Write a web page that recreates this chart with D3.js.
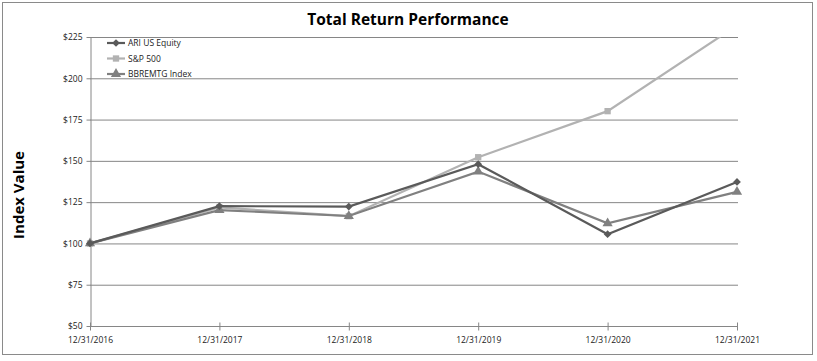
<!DOCTYPE html>
<html><head><meta charset="utf-8">
<script src="https://cdn.jsdelivr.net/npm/d3@7"></script>
<style>body{margin:0;background:#fff}svg{display:block}</style>
</head><body><svg id="c" width="817" height="361"></svg>
<script>
const categories = ["12/31/2016","12/31/2017","12/31/2018","12/31/2019","12/31/2020","12/31/2021"];
const ariValues = [100, 122.6, 122.3, 148, 105.6, 137.2];
const spValues = [100, 121.8, 116.5, 152.2, 180.1, 232];
const bbValues = [100, 120.2, 116.6, 143.5, 112.2, 131.2];
const seriesNames = ["ARI US Equity", "S&P 500", "BBREMTG Index"];
const yTicks = [50, 75, 100, 125, 150, 175, 200, 225];

const series = [
  {name: seriesNames[0], values: ariValues, color: "#5a5a5a", sym: d3.symbolSquare, rot: 45, size: 30},
  {name: seriesNames[1], values: spValues, color: "#b2b2b2", sym: d3.symbolSquare, rot: 0, size: 40},
  {name: seriesNames[2], values: bbValues, color: "#808080", sym: d3.symbolTriangle, rot: 0, size: 45}
];

const svg = d3.select("#c");
const font = "'Open Sans', 'Noto Sans', sans-serif";
svg.append("rect").attr("x",2.5).attr("y",2.5).attr("width",810).attr("height",352)
  .attr("fill","#fff").attr("stroke","#8a8a8a").attr("stroke-width",1);

const L = 90, R = 737, T = 37, B = 326;
const x = d3.scalePoint().domain(categories).range([L, R]);
const y = d3.scaleLinear().domain([50, 225]).range([B, T]);

svg.append("text").attr("x",408).attr("y",25).attr("text-anchor","middle")
  .attr("font-family",font).attr("font-weight","bold").attr("font-size",15.5).attr("fill","#000")
  .text("Total Return Performance");

svg.append("text").attr("transform","translate(24,195) rotate(-90)").attr("text-anchor","middle")
  .attr("font-family",font).attr("font-weight","bold").attr("font-size",15).attr("fill","#000")
  .text("Index Value");

// gridlines
svg.append("g").selectAll("line").data(yTicks.filter(d=>d>50)).join("line")
  .attr("x1",L).attr("x2",R+1).attr("y1",d=>y(d)+0.5).attr("y2",d=>y(d)+0.5)
  .attr("stroke","#868686").attr("stroke-width",1);

// y axis
const yAxis = svg.append("g").attr("transform",`translate(${L+0.5},0)`)
  .call(d3.axisLeft(y).tickValues(yTicks).tickSize(4).tickSizeOuter(0).tickFormat(d=>"$"+d));
yAxis.select(".domain").attr("stroke","#868686");
yAxis.selectAll(".tick line").attr("stroke","#868686");
yAxis.selectAll("text").attr("font-family",font).attr("font-size",8.5).attr("fill","#222").attr("x",-8);

// x axis
const xAxis = svg.append("g").attr("transform",`translate(0,${B+0.5})`)
  .call(d3.axisBottom(x).tickSize(4).tickSizeOuter(0));
xAxis.select(".domain").attr("stroke","#868686").attr("d",`M${L},0H${R+1}`);
xAxis.selectAll(".tick line").attr("stroke","#868686").attr("y1",-4).attr("y2",4);
xAxis.selectAll("text").attr("font-family",font).attr("font-size",8.5).attr("fill","#222").attr("dy","1.2em").attr("y",6);

svg.append("clipPath").attr("id","clip").append("rect")
  .attr("x",L-10).attr("y",T).attr("width",R-L+20).attr("height",B-T+10);

const line = d3.line().x((d,i)=>x(categories[i])).y(d=>y(d));
const plot = svg.append("g").attr("clip-path","url(#clip)");
// draw order: S&P, BB, ARI
[series[1], series[2], series[0]].forEach(s=>{
  plot.append("path").attr("d",line(s.values)).attr("fill","none")
    .attr("stroke",s.color).attr("stroke-width",2.2);
  plot.selectAll(null).data(s.values).join("path")
    .attr("transform",(d,i)=>`translate(${x(categories[i])},${y(d)}) rotate(${s.rot})`)
    .attr("d",d3.symbol().type(s.sym).size(s.size))
    .attr("fill",s.color);
});

// legend
const lg = svg.append("g");
series.forEach((s,i)=>{
  const ly = 43 + i*15.5;
  lg.append("line").attr("x1",107).attr("x2",125).attr("y1",ly).attr("y2",ly)
    .attr("stroke",s.color).attr("stroke-width",2.2);
  lg.append("path").attr("transform",`translate(116,${ly}) rotate(${s.rot})`)
    .attr("d",d3.symbol().type(s.sym).size(s.size)).attr("fill",s.color);
  lg.append("text").attr("x",128).attr("y",ly+3).attr("font-family",font).attr("font-size",8.5)
    .attr("fill","#222").text(s.name);
});
</script></body></html>
